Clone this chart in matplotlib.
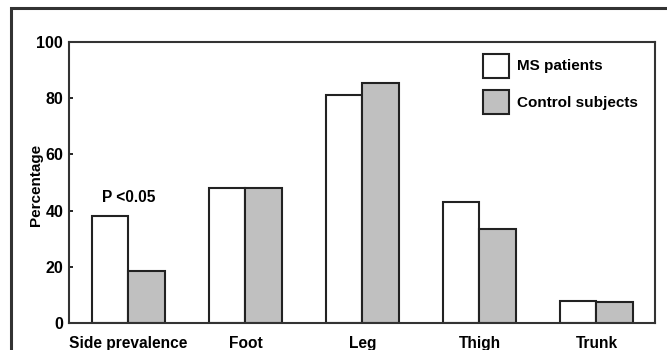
import matplotlib.pyplot as plt
import matplotlib.patches as mpatches
import numpy as np

# Data
categories = ['Side prevalence', 'Foot', 'Leg', 'Thigh', 'Trunk']
ms_patients = [38, 48, 81, 43, 8]
control_subjects = [18.5, 48, 85.5, 33.5, 7.5]
y_ticks = [0, 20, 40, 60, 80, 100]

EDGE = '#222222'
GREY = '#c0c0c0'

plt.rcParams.update({
    "font.family": ["Liberation Sans", "DejaVu Sans"],
    "font.weight": "bold",
})

fig = plt.figure(figsize=(6.67, 3.5), dpi=100)
ax = fig.add_axes([69.4 / 667, 1 - 323.3 / 350, (655 - 69.4) / 667, (323.3 - 41.7) / 350])

x = np.arange(len(categories))
w = 0.316
ax.bar(x - w / 2, ms_patients, width=w, color='white', edgecolor=EDGE,
       linewidth=1.5, label='MS patients')
ax.bar(x + w / 2, control_subjects, width=w, color=GREY, edgecolor=EDGE,
       linewidth=1.5, label='Control subjects')

ax.set_xlim(-0.505, 4.5)
ax.set_ylim(0, 100)
ax.set_yticks(y_ticks)
ax.set_xticks(x)
ax.set_xticklabels(categories, fontsize=11.2, fontweight='bold')
ax.tick_params(axis='x', length=0, pad=9)
ax.tick_params(axis='y', direction='in', length=3, width=1.2, labelsize=11.5, pad=4.5)
for lab in ax.get_yticklabels():
    lab.set_fontweight('bold')

for s in ax.spines.values():
    s.set_linewidth(1.5)
    s.set_color('#333333')

ax.set_ylabel('Percentage', fontsize=11, fontweight='bold')
ax.yaxis.set_label_coords(-0.045, 0.49)

ax.text(0, 44.5, 'P <0.05', ha='center', va='center', fontsize=11.2, fontweight='bold')

leg = ax.legend(loc='upper left', bbox_to_anchor=(0.694, 0.985), frameon=False,
                fontsize=11, borderpad=0, handlelength=1.65, handleheight=2.04,
                handletextpad=0.55, labelspacing=0.8)
for t in leg.get_texts():
    t.set_fontweight('bold')

# outer frame of the original figure panel
fig.patches.append(mpatches.Rectangle((10.5 / 667, -0.05), 1.2, 1 - 7.5 / 350 + 0.05,
                                      transform=fig.transFigure, fill=False,
                                      edgecolor='#333333', linewidth=2.2))

fig.savefig('out.png', dpi=100, facecolor='white')
